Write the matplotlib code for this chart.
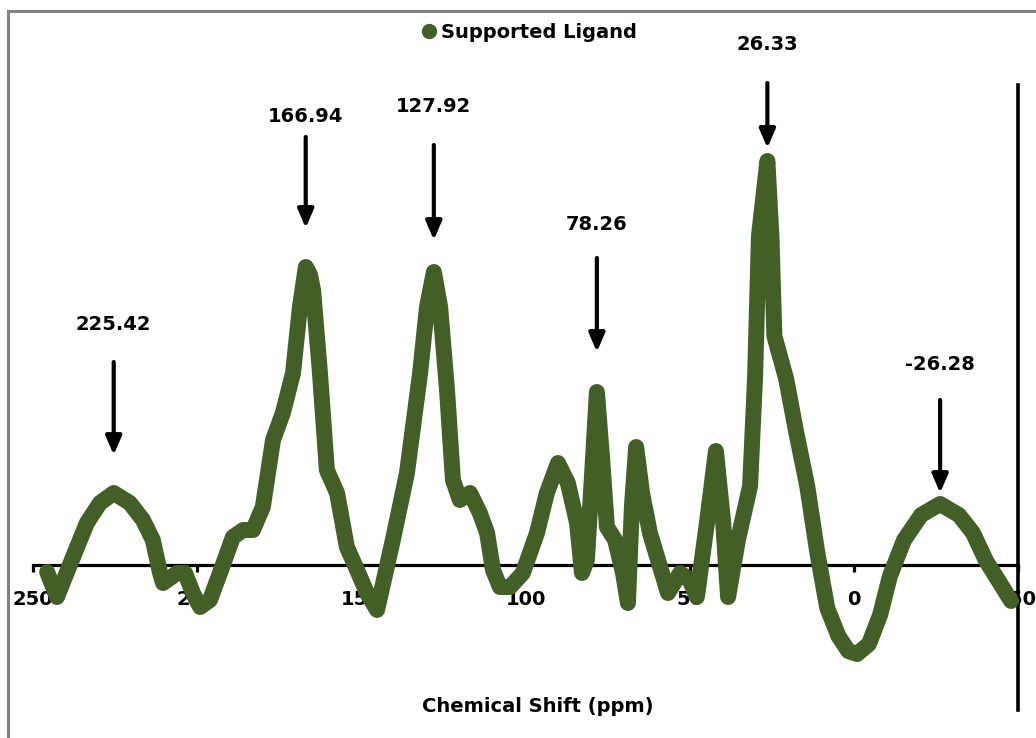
import matplotlib
matplotlib.use("Agg")
import matplotlib.pyplot as plt
from matplotlib.lines import Line2D

# ---- data ----
shift_ppm = [245.7, 242.7, 237.8, 233.6, 229.6, 225.4, 220.5, 216.5, 213.5, 211.3,
             210.4, 206.1, 203.7, 201.3, 199.1, 196.1, 192.4, 189.1, 186.0, 183.0,
             180.0, 176.9, 173.9, 170.8, 168.7, 166.9, 165.6, 164.7, 162.6, 160.5,
             157.4, 154.4, 151.3, 148.3, 145.2, 140.4, 136.1, 132.1, 130.0, 127.9,
             126.0, 123.9, 122.1, 120.0, 116.9, 113.9, 111.7, 109.9, 107.8, 104.7,
             100.8, 96.5, 93.5, 90.1, 87.1, 84.3, 82.8, 81.3, 79.7, 78.26,
             76.7, 75.2, 72.7, 70.3, 68.8, 67.6, 66.3, 64.5, 62.1, 59.0,
             56.6, 52.9, 50.0, 47.8, 44.7, 42.0, 39.8, 38.3, 35.3, 31.6,
             30.1, 28.9, 26.33, 25.1, 24.2, 20.6, 17.5, 14.2, 11.2, 8.1,
             4.7, 1.7, -1.0, -4.6, -8.0, -11.0, -15.3, -20.5, -26.28, -32.0,
             -36.3, -40.3, -44.5, -47.9]
intensity = [-0.07, -0.32, 0.08, 0.42, 0.62, 0.72, 0.62, 0.45, 0.25, -0.08,
             -0.18, -0.08, -0.08, -0.28, -0.42, -0.35, -0.02, 0.28, 0.35, 0.35,
             0.58, 1.25, 1.52, 1.92, 2.58, 2.98, 2.90, 2.75, 1.92, 0.95,
             0.72, 0.18, -0.05, -0.28, -0.45, 0.25, 0.92, 1.92, 2.58, 2.93,
             2.58, 1.75, 0.85, 0.65, 0.72, 0.52, 0.32, -0.05, -0.22, -0.22,
             -0.08, 0.32, 0.72, 1.02, 0.82, 0.42, -0.08, 0.05, 0.92, 1.73,
             1.08, 0.38, 0.25, -0.08, -0.38, 0.58, 1.18, 0.72, 0.32, -0.02,
             -0.28, -0.08, -0.15, -0.32, 0.43, 1.14, 0.43, -0.32, 0.25, 0.79,
             1.86, 3.29, 4.04, 3.29, 2.29, 1.86, 1.32, 0.79, 0.14, -0.43,
             -0.71, -0.86, -0.89, -0.79, -0.50, -0.11, 0.25, 0.50, 0.61, 0.50,
             0.32, 0.04, -0.18, -0.36]

peak_labels = ["225.42", "166.94", "127.92", "78.26", "26.33", "-26.28"]
peak_ppm = [225.42, 166.94, 127.92, 78.26, 26.33, -26.28]
label_y = [2.40, 4.48, 4.58, 3.40, 5.20, 2.00]
arrow_tail_y = [2.03, 4.28, 4.20, 3.07, 4.82, 1.65]
arrow_tip_y = [1.10, 3.37, 3.25, 2.13, 4.17, 0.72]

x_ticks = [250, 200, 150, 100, 50, 0, -50]
series_name = "Supported Ligand"
x_title = "Chemical Shift (ppm)"

GREEN = "#425f27"
W, H = 1036, 738

fig = plt.figure(figsize=(W / 100, H / 100), dpi=100)
ax = fig.add_axes([33 / W, 1 - 710 / H, (1018 - 33) / W, (710 - 85) / H])
ax.set_xlim(250, -50)
ax.set_ylim(-1.45, 4.8)

ax.plot(shift_ppm, intensity, color=GREEN, lw=11.5, solid_joinstyle="round",
        solid_capstyle="round", zorder=3, clip_on=False)

for s in ["left", "top"]:
    ax.spines[s].set_visible(False)
ax.spines["bottom"].set_position(("data", 0))
ax.spines["bottom"].set_linewidth(2.3)
ax.spines["right"].set_linewidth(2.6)
ax.spines["bottom"].set_zorder(2)
ax.spines["right"].set_zorder(2)
ax.set_yticks([])
ax.set_xticks(x_ticks)
ax.set_xticklabels([str(t) for t in x_ticks], fontsize=14, fontweight="bold",
                   family="DejaVu Sans")
ax.tick_params(axis="x", direction="out", length=5, width=2.3, pad=13)
for lab in ax.get_xticklabels():
    lab.set_zorder(1)
ax.xaxis.set_zorder(1)

for lbl, xp, ly, ty, hy in zip(peak_labels, peak_ppm, label_y, arrow_tail_y, arrow_tip_y):
    ax.text(xp, ly, lbl, ha="center", va="center", fontsize=14, fontweight="bold",
            family="DejaVu Sans", clip_on=False)
    ax.annotate("", xy=(xp, hy), xytext=(xp, ty), annotation_clip=False,
                arrowprops=dict(arrowstyle="-|>,head_width=0.3,head_length=0.7",
                                mutation_scale=16, lw=3, color="black",
                                shrinkA=0, shrinkB=0))

handle = Line2D([], [], marker="o", ls="none", color=GREEN, markersize=10)
fig.legend([handle], [series_name], loc="center", bbox_to_anchor=(528 / W, 1 - 32 / H),
           frameon=False, handletextpad=0.1, handlelength=1.0,
           prop=dict(size=14, weight="bold", family="DejaVu Sans"))

fig.text(538 / W, 1 - 707 / H, x_title, ha="center", va="center", fontsize=14,
         fontweight="bold", family="DejaVu Sans")

fig.add_artist(Line2D([8 / W, 8 / W], [0, 1 - 11 / H], transform=fig.transFigure,
                      color="#808080", lw=2.2))
fig.add_artist(Line2D([8 / W, 1], [1 - 11 / H, 1 - 11 / H], transform=fig.transFigure,
                      color="#808080", lw=2.2))

fig.savefig("out.png", dpi=100)
